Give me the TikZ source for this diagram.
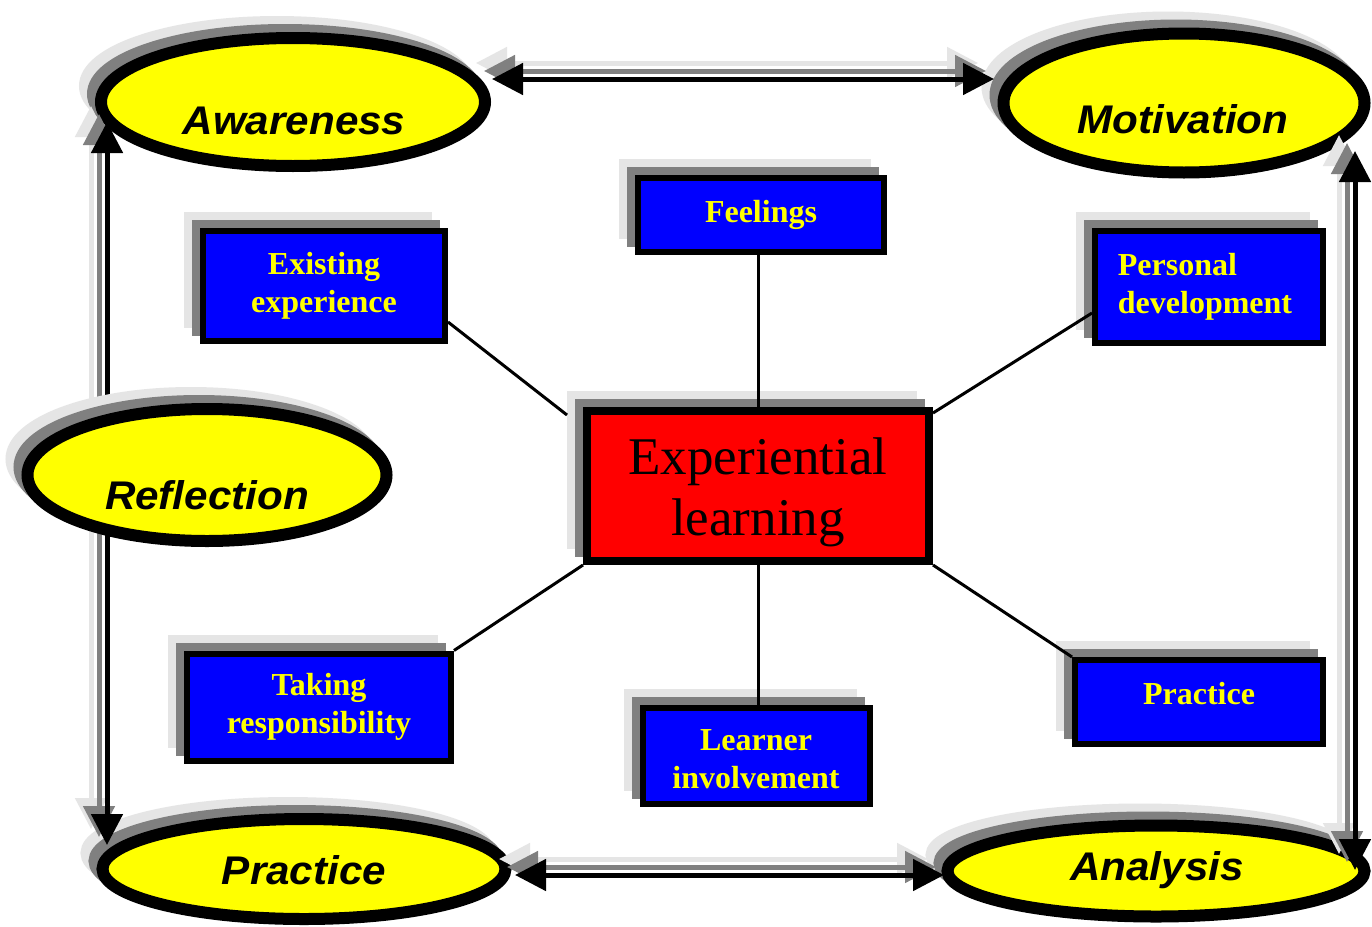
\documentclass[tikz,border=0pt]{standalone}
\usepackage{fontspec}
\usetikzlibrary{shapes.geometric,shadows,arrows.meta,calc}
\newfontfamily\ovalfont{Liberation Sans}[FakeStretch=1.055]
\newfontfamily\boxfont{Liberation Serif}
\definecolor{shadelight}{HTML}{E5E5E5}
\definecolor{shadedark}{HTML}{808080}
\definecolor{boxblue}{HTML}{0000FF}
\definecolor{ovalyellow}{HTML}{FFFF00}
\definecolor{corered}{HTML}{FF0000}

\begin{document}
\begin{tikzpicture}[x=1pt,y=-1pt,
  twoshadows/.style={
    general shadow={shadow xshift=-16pt,shadow yshift=16pt,fill=shadelight,draw=shadelight},
    general shadow={shadow xshift=-8pt,shadow yshift=8pt,fill=shadedark,draw=shadedark}},
  oval/.style={ellipse, draw=black, fill=ovalyellow, line width=12pt, inner sep=0pt, twoshadows},
  ovaltext/.style={font=\ovalfont\bfseries\itshape\fontsize{40}{48}\selectfont,
    text height=29pt, text depth=0pt, inner sep=0pt},
  topic/.style={rectangle, draw=black, fill=boxblue, line width=6pt, inner sep=0pt, twoshadows,
    text=ovalyellow, font=\boxfont\bfseries\fontsize{32}{38}\selectfont, align=center},
  core/.style={rectangle, draw=black, fill=corered, line width=8pt, inner sep=0pt, twoshadows,
    font=\boxfont\fontsize{53}{61}\selectfont, align=center},
  link/.style={line width=3pt, draw=black},
  roundtrip/.style={line width=5pt,
    {Triangle[length=31pt,width=31pt]}-{Triangle[length=31pt,width=31pt]}}
]
\useasboundingbox (0,0) rectangle (1372,926);
\fill[white] (0,0) rectangle (1372,926);

% corner stages of the cycle
\node[oval, minimum width=384pt, minimum height=128pt] (aware) at (293,102) {};
\node[oval, minimum width=361pt, minimum height=139pt] (motiv) at (1184,103) {};
\node[oval, minimum width=403pt, minimum height=100pt] (pract) at (304,869) {};
\node[oval, minimum width=417pt, minimum height=91pt] (anal) at (1156,871) {};

% double-headed arrows round the cycle, each with two offset shadows
\foreach \d/\c in {16/shadelight,8/shadedark,0/black}{
  \begin{scope}[transform canvas={shift={(-\d pt,\d pt)}}]
    \draw[roundtrip, draw=\c] ($(aware.center)+(199,-23)$) -- ($(motiv.center)+(-190,-24)$);
    \draw[roundtrip, draw=\c] ($(pract.center)+(211,6)$) -- ($(anal.center)+(-212,4)$);
    \draw[roundtrip, draw=\c] ($(aware.center)+(-186,20)$) -- ($(pract.center)+(-197,-24)$);
    \draw[roundtrip, draw=\c] ($(motiv.center)+(171,48)$) -- ($(anal.center)+(199,-1)$);
  \end{scope}
}

\node[oval, minimum width=359pt, minimum height=132pt] (refl) at (207,475) {};

% stage labels
\node[ovaltext] (awaretxt) at (294,120) {Awareness};
\node[ovaltext] (motivtxt) at (1183,119) {Motivation};
\node[ovaltext] (refltxt) at (207,495) {Reflection};
\node[ovaltext] (practtxt) at (304,870) {Practice};
\node[ovaltext] (analtxt) at (1157,866) {Analysis};

% central topic and its aspects
\node[core, minimum width=342pt, minimum height=150pt] (exp) at (758,486)
  {\rule{0pt}{49pt}Experiential\\learning};
\node[topic, minimum width=246pt, minimum height=74pt] (feel) at (761,215) {Feelings};
\node[topic, minimum width=242pt, minimum height=110pt] (exist) at (324,286) {Existing\\experience};
\node[topic, minimum width=228pt, minimum height=112pt, align=left] (pers) at (1209,287)
  {Personal\\development\hspace*{8pt}};
\node[topic, minimum width=264pt, minimum height=107pt] (take) at (319,707) {Taking\\responsibility};
\node[topic, minimum width=227pt, minimum height=96pt] (learn) at (756,756)
  {\rule{0pt}{28pt}Learner\\involvement};
\node[topic, minimum width=248pt, minimum height=84pt, text depth=18pt] (prbox) at (1199,702) {Practice};

% spokes from the centre
\draw[link] (exp.north |- feel.south) -- (exp.north);
\draw[link] (exp.south) -- (exp.south |- learn.north);
\draw[link] ($(exist.east)+(0,36)$) -- ($(exp.north west)+(-16,8)$);
\draw[link] ($(pers.west)+(0,26)$) -- ($(exp.north east)+(0,6)$);
\draw[link] (take.north east) -- (exp.south west);
\draw[link] (exp.south east) -- (prbox.north west);
\end{tikzpicture}
\end{document}
